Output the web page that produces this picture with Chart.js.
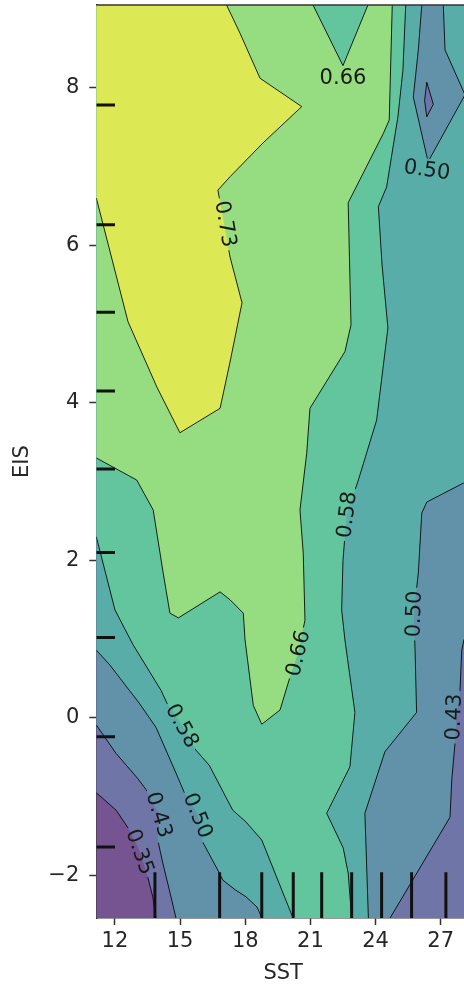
<!DOCTYPE html>
<html>
<head>
<meta charset="utf-8">
<script src="https://cdn.jsdelivr.net/npm/chart.js@4.4.1/dist/chart.umd.min.js"></script>
<style>
  html, body { margin: 0; padding: 0; background: #fff; overflow: hidden; width: 464px; height: 986px; }
  canvas { display: block; }
</style>
</head>
<body>
<canvas id="pdp" width="471" height="986"></canvas>
<script>
// Two-way partial dependence on SST and EIS, drawn as filled contour bands.

// Axis ranges (SST, EIS)
const X0 = 11.14, X1 = 28.35, Y0 = -2.54, Y1 = 9.05;

// Contour levels and tick values
const levels = [0.35, 0.43, 0.50, 0.58, 0.66, 0.73];
const sstTicks = [12, 15, 18, 21, 24, 27];
const eisTicks = [-2, 0, 2, 4, 6, 8];

// Deciles of each feature (rug marks)
const sstDeciles = [13.84, 16.82, 18.76, 20.21, 21.52, 22.90, 24.28, 25.66, 27.24];
const eisDeciles = [7.78, 6.26, 5.15, 4.15, 3.16, 2.10, 1.02, -0.24, -1.64];

// Regions where the partial dependence exceeds each level, as [SST, EIS] outlines
const frame = [[X0, Y1], [X1, Y1], [X1, Y0], [X0, Y0]];
const above035 = [[X0, Y1], [X1, Y1], [X1, Y0], [13.89, Y0], [13.74, -2.27], [13.51, -2.02], [13.15, -1.70],
  [12.66, -1.42], [12.05, -1.17], [X0, -0.95]];
const above043 = [[X0, Y1], [X1, Y1], [X1, 1.12], [28.07, 0.99], [27.97, 0.86], [27.89, 0.35], [27.72, 0.01],
  [27.66, -0.32], [27.51, -0.79], [27.43, -1.26], [24.67, Y0], [14.81, Y0], [14.50, -2.18], [14.20, -1.84],
  [13.97, -1.55], [14.03, -1.23], [13.43, -0.91], [13.05, -0.77], [12.05, -0.45], [X0, -0.09]];
const above050 = [[X0, Y1], [X1, Y1], [X1, 3.00], [28.04, 2.98], [26.36, 2.74], [26.13, 2.60], [25.97, 1.84],
  [25.76, 1.32], [25.82, 0.86], [25.89, 0.07], [24.43, -0.43], [23.51, -1.21], [23.67, Y0], [18.77, Y0],
  [18.54, -2.40], [18.03, -2.27], [17.53, -2.18], [16.97, -2.06], [16.79, -1.96], [16.05, -1.58],
  [15.82, -1.23], [15.18, -0.94], [14.81, -0.70], [13.89, -0.12], [13.11, 0.19], [12.66, 0.35],
  [11.77, 0.67], [X0, 0.86]];
const above058 = [[X0, Y1], [25.39, Y1], [25.26, 8.22], [25.03, 7.63], [24.51, 6.74], [24.13, 6.49],
  [24.30, 5.75], [24.57, 4.95], [24.05, 3.78], [23.21, 3.02], [22.67, 2.58], [22.50, 2.00], [22.44, 1.37],
  [22.59, 0.99], [23.05, 0.07], [22.82, -0.62], [21.75, -1.21], [22.51, -1.65], [22.74, -1.97], [22.90, Y0],
  [20.20, Y0], [18.76, -1.55], [18.03, -1.32], [17.42, -1.17], [16.34, -0.60], [15.73, -0.41], [15.10, -0.10],
  [14.39, 0.19], [14.12, 0.35], [12.83, 0.93], [12.00, 1.37], [X0, 2.30]];
const above066 = [[X0, Y1], [21.12, Y1], [22.50, 8.28], [23.65, Y1], [24.77, Y1], [24.63, 7.59], [24.36, 7.42],
  [22.74, 6.54], [22.87, 4.99], [22.59, 4.65], [20.98, 3.93], [20.83, 3.36], [20.52, 2.64], [20.67, 2.09],
  [20.75, 1.24], [20.43, 0.82], [20.06, 0.52], [19.60, 0.10], [18.76, -0.08], [18.37, 0.16], [17.99, 0.99],
  [17.91, 1.33], [17.30, 1.50], [16.84, 1.60], [14.92, 1.27], [14.53, 1.33], [14.22, 1.84], [13.76, 2.64],
  [13.00, 3.02], [X0, 3.30]];
const above073 = [[X0, Y1], [17.14, Y1], [17.76, 8.69], [18.68, 8.12], [20.60, 7.76], [18.82, 7.30], [17.30, 6.87],
  [16.74, 6.70], [17.30, 5.85], [17.85, 5.27], [17.30, 4.52], [16.84, 3.93], [14.99, 3.62], [13.93, 4.20],
  [12.60, 5.03], [X0, 6.60]];
// Local low in the warm, stable corner: below 0.50, with a core below 0.43
const pocket050 = [[26.13, Y1], [27.12, Y1], [27.20, 8.48], [28.12, 7.91], [26.42, 7.06], [25.74, 7.88], [25.97, 8.48]];
const pocket043 = [[26.36, 8.07], [26.66, 7.79], [26.36, 7.63], [26.26, 7.84]];

// Inline contour labels: level, position (SST, EIS) and text angle
const labelLevel = [0.35, 0.43, 0.50, 0.58, 0.73, 0.66, 0.50, 0.58, 0.66, 0.50, 0.43];
const labelSST   = [13.15, 14.04, 15.82, 15.10, 17.10, 22.50, 26.37, 22.67, 20.43, 25.76, 27.60];
const labelEIS   = [-1.70, -1.23, -1.24, -0.10, 6.27, 8.13, 6.96, 2.58, 0.82, 1.32, 0.01];
const labelAngle = [70, 73, 68, 61, 80, 0, 8, -83, -77, -88, -88];

// Band colours (viridis at 75% opacity over white), lowest band first
const bandColors = ['#765492', '#6f75a6', '#6292aa', '#59ada9', '#62c59e', '#96dc80', '#dce955'];

const FONT = { family: 'DejaVu Sans', size: 21 };
const TEXT = '#262626';
const AXIS = '#333333';

const toPts = poly => poly.map(([x, y]) => ({ x, y }));

// Outline pieces that lie inside the plot (edges along the frame are not contour lines)
function onFrame(a, b) {
  return (a[0] === X0 && b[0] === X0) || (a[0] === X1 && b[0] === X1) ||
         (a[1] === Y0 && b[1] === Y0) || (a[1] === Y1 && b[1] === Y1);
}
function contourPath(poly) {
  const out = [];
  const n = poly.length;
  for (let i = 0; i < n; i++) {
    const a = poly[i], b = poly[(i + 1) % n];
    const last = out[out.length - 1];
    if (onFrame(a, b)) {
      if (last && last.y !== null) out.push({ x: a[0], y: null });
      continue;
    }
    if (!last || last.y === null || last.x !== a[0] || last.y !== a[1]) out.push({ x: a[0], y: a[1] });
    out.push({ x: b[0], y: b[1] });
  }
  return out;
}

// Painting order: the lowest band covers the frame, higher regions are laid on top
const fillOrder = [
  [frame, bandColors[0]],
  [above035, bandColors[1]],
  [above043, bandColors[2]],
  [above050, bandColors[3]],
  [above058, bandColors[4]],
  [above066, bandColors[5]],
  [above073, bandColors[6]],
  [pocket050, bandColors[2]],
  [pocket043, bandColors[1]]
];
const outlines = [above035, above043, above050, above058, above066, above073, pocket050, pocket043];

const datasets = [];
let seq = 0;
fillOrder.forEach(([poly, color]) => {
  datasets.push({
    data: toPts(poly), fill: 'shape', backgroundColor: color,
    borderColor: 'rgba(0,0,0,0)', borderWidth: 0, pointRadius: 0, tension: 0,
    order: 1000 - (seq++)
  });
});
outlines.forEach(poly => {
  datasets.push({
    data: contourPath(poly), fill: false, isContour: true,
    borderColor: 'rgba(0,0,0,0.85)', borderWidth: 1, pointRadius: 0, tension: 0, spanGaps: false,
    order: 1000 - (seq++)
  });
});
// Rug marks: deciles along the bottom and left edges (5% of the axis span)
const rugX = [], rugY = [];
sstDeciles.forEach(d => { rugX.push({ x: d, y: Y0 }, { x: d, y: Y0 + 0.05 * (Y1 - Y0) }, { x: d, y: null }); });
eisDeciles.forEach(d => { rugY.push({ x: X0, y: d }, { x: X0 + 0.05 * (X1 - X0), y: d }, { x: X0, y: null }); });
[rugX, rugY].forEach(pts => {
  datasets.push({
    data: pts, fill: false, borderColor: '#111', borderWidth: 3, borderCapStyle: 'butt',
    pointRadius: 0, spanGaps: false, order: 1000 - (seq++)
  });
});

const fmt = v => (v < 0 ? '\u2212' + Math.abs(v) : String(v));

function labelBox(chart, i, ctx) {
  const px = chart.scales.x.getPixelForValue(labelSST[i]);
  const py = chart.scales.y.getPixelForValue(labelEIS[i]);
  const w = ctx.measureText(labelLevel[i].toFixed(2)).width + 6;
  const h = FONT.size + 1;
  const a = labelAngle[i] * Math.PI / 180;
  return { px, py, w, h, a };
}

const contourLabels = {
  id: 'contourLabels',
  beforeDatasetDraw(chart, args) {
    const ds = chart.data.datasets[args.index];
    if (!ds.isContour) return;
    const ctx = chart.ctx;
    ctx.save();
    ctx.font = FONT.size + 'px "' + FONT.family + '"';
    ctx.beginPath();
    ctx.rect(0, 0, chart.width, chart.height);
    labelLevel.forEach((lv, i) => {
      const { px, py, w, h, a } = labelBox(chart, i, ctx);
      const c = Math.cos(a), s = Math.sin(a);
      [[-w / 2, -h / 2], [w / 2, -h / 2], [w / 2, h / 2], [-w / 2, h / 2]].forEach(([u, v], k) => {
        const X = px + u * c - v * s, Y = py + u * s + v * c;
        if (k) ctx.lineTo(X, Y); else ctx.moveTo(X, Y);
      });
      ctx.closePath();
    });
    ctx.clip('evenodd');
  },
  afterDatasetDraw(chart, args) {
    if (chart.data.datasets[args.index].isContour) chart.ctx.restore();
  },
  afterDatasetsDraw(chart) {
    const ctx = chart.ctx;
    ctx.save();
    ctx.font = FONT.size + 'px "' + FONT.family + '"';
    ctx.fillStyle = '#1a1a1a';
    ctx.textAlign = 'center';
    ctx.textBaseline = 'middle';
    labelLevel.forEach((lv, i) => {
      const { px, py, a } = labelBox(chart, i, ctx);
      ctx.save();
      ctx.translate(px, py);
      ctx.rotate(a);
      ctx.fillText(lv.toFixed(2), 0, 1);
      ctx.restore();
    });
    ctx.restore();
  },
  afterDraw(chart) {
    const { ctx, chartArea: ca } = chart;
    ctx.save();
    ctx.strokeStyle = AXIS;
    ctx.lineWidth = 1.5;
    ctx.beginPath();
    ctx.moveTo(ca.left, ca.top);
    ctx.lineTo(ca.right, ca.top);
    ctx.stroke();
    ctx.restore();
  }
};

new Chart(document.getElementById('pdp'), {
  type: 'line',
  data: { datasets },
  options: {
    responsive: false,
    animation: false,
    devicePixelRatio: 1,
    layout: { padding: { top: 5, right: 1, left: 0, bottom: 0 } },
    plugins: { legend: { display: false }, tooltip: { enabled: false } },
    scales: {
      x: {
        type: 'linear', position: 'bottom', min: X0, max: X1, z: 1,
        afterFit: s => { s.height = 68; s.paddingLeft = 0; s.paddingRight = 0; },
        afterBuildTicks: s => { s.ticks = sstTicks.map(v => ({ value: v })); },
        ticks: { font: FONT, color: TEXT, padding: 4, maxRotation: 0, autoSkip: false, callback: fmt },
        grid: { display: true, drawOnChartArea: false, drawTicks: true, tickLength: 7, tickWidth: 1.5, tickColor: AXIS },
        border: { display: true, color: AXIS, width: 1.5 },
        title: { display: true, text: 'SST', font: FONT, color: TEXT, padding: { top: 0, bottom: 0 } }
      },
      y: {
        type: 'linear', position: 'left', min: Y0, max: Y1, z: 1,
        afterFit: s => { s.width = 96.3; s.paddingTop = 0; s.paddingBottom = 0; },
        afterBuildTicks: s => { s.ticks = eisTicks.map(v => ({ value: v })); },
        ticks: { font: FONT, color: TEXT, padding: 10, autoSkip: false, callback: fmt },
        grid: { display: true, drawOnChartArea: false, drawTicks: true, tickLength: 7, tickWidth: 1.5, tickColor: AXIS },
        border: { display: true, color: AXIS, width: 1.5 },
        title: { display: true, text: 'EIS', font: FONT, color: TEXT, padding: { top: 10, bottom: 0 } }
      }
    }
  },
  plugins: [contourLabels]
});
</script>
</body>
</html>
